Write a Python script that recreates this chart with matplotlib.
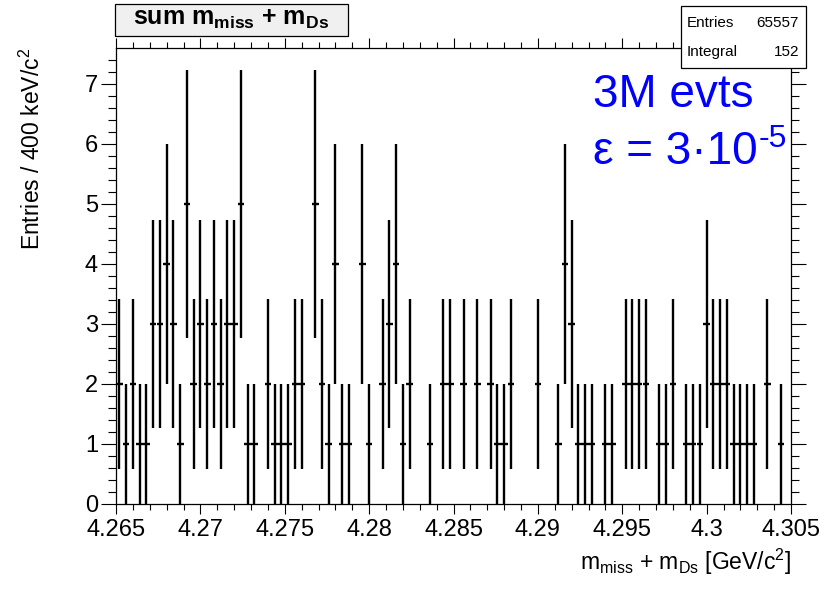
import numpy as np
import matplotlib
matplotlib.use("Agg")
import matplotlib.pyplot as plt
from matplotlib.patches import Rectangle
from matplotlib.ticker import FixedLocator, FixedFormatter, MultipleLocator

plt.rcParams['font.family'] = ['Liberation Sans', 'DejaVu Sans']
plt.rcParams['mathtext.fontset'] = 'custom'
plt.rcParams['mathtext.rm'] = 'Liberation Sans'
plt.rcParams['mathtext.it'] = 'Liberation Sans:italic'
plt.rcParams['mathtext.bf'] = 'Liberation Sans:bold'

# Histogram: 100 bins of 400 keV between 4.265 and 4.305 GeV
x_min, x_max, n_bins = 4.265, 4.305, 100
counts = [
    2, 1, 2, 1, 1, 3, 3, 4, 3, 1,
    5, 2, 3, 2, 3, 2, 3, 3, 5, 1,
    1, 0, 2, 1, 1, 1, 2, 2, 0, 5,
    2, 1, 4, 1, 1, 0, 4, 1, 0, 2,
    3, 4, 1, 2, 0, 0, 1, 0, 2, 2,
    0, 2, 0, 2, 0, 2, 1, 1, 2, 0,
    0, 0, 2, 0, 0, 1, 4, 3, 1, 1,
    1, 0, 1, 1, 0, 2, 2, 2, 2, 0,
    1, 1, 2, 0, 1, 1, 1, 3, 2, 2,
    2, 1, 1, 1, 1, 0, 2, 0, 1, 0,
]
entries = 65557
x_ticks = [4.265, 4.27, 4.275, 4.28, 4.285, 4.29, 4.295, 4.3, 4.305]
x_tick_labels = ["4.265", "4.27", "4.275", "4.28", "4.285", "4.29", "4.295", "4.3", "4.305"]
y_ticks = [0, 1, 2, 3, 4, 5, 6, 7]

edges = np.linspace(x_min, x_max, n_bins + 1)
centers = 0.5 * (edges[:-1] + edges[1:])
half_w = 0.5 * (edges[1] - edges[0])
y = np.array(counts, dtype=float)
err = np.sqrt(y)
filled = y > 0

W, H = 831, 593
fig = plt.figure(figsize=(W / 100, H / 100), dpi=100)
ax = fig.add_axes([116 / W, 1 - 504 / H, 675 / W, 456 / H])

ax.errorbar(centers[filled], y[filled], yerr=err[filled], xerr=half_w,
            fmt='none', ecolor='black', elinewidth=1.7, capsize=0)

ax.set_xlim(x_min, x_max)
ax.set_ylim(0, 1.05 * np.max(y + err))

ax.xaxis.set_major_locator(FixedLocator(x_ticks))
ax.xaxis.set_major_formatter(FixedFormatter(x_tick_labels))
ax.xaxis.set_minor_locator(MultipleLocator(0.001))
ax.yaxis.set_major_locator(FixedLocator(y_ticks))
ax.yaxis.set_minor_locator(MultipleLocator(0.2))

for s in ax.spines.values():
    s.set_linewidth(0.9)
ax.tick_params(axis='x', which='both', direction='out', top=True, bottom=True,
               labeltop=False, width=0.8, labelsize=17, pad=3)
ax.tick_params(axis='x', which='major', length=7.5)
ax.tick_params(axis='x', which='minor', length=4)
ax.tick_params(axis='y', which='both', direction='out', left=True, right=True,
               labelright=False, width=0.8, labelsize=17, pad=2)
ax.tick_params(axis='y', which='major', length=11)
ax.tick_params(axis='y', which='minor', length=5.8)

ax.set_xlabel(r'm$_{\mathrm{miss}}$ + m$_{\mathrm{Ds}}$ [GeV/c$^{\mathrm{2}}$]',
              fontsize=16.5, loc='right')
ax.xaxis.set_label_coords(1.0, -0.093)
ax.set_ylabel(r'Entries / 400 keV/c$^{\mathrm{2}}$', fontsize=16.5, loc='top')
ax.yaxis.set_label_coords(-0.105, 1.0)

# Title box
fig.add_artist(Rectangle((115 / W, 1 - 36 / H), 233 / W, 32 / H,
                         transform=fig.transFigure, facecolor='#f0f0f0',
                         edgecolor='black', linewidth=0.9, zorder=5))
fig.text(231 / W, 1 - 25 / H,
         r'sum m$_{\mathbf{miss}}$ + m$_{\mathbf{Ds}}$',
         fontsize=18, fontweight='bold', ha='center', va='baseline', zorder=6)

# Statistics box
fig.add_artist(Rectangle((681 / W, 1 - 68 / H), 125 / W, 62 / H,
                         transform=fig.transFigure, facecolor='white',
                         edgecolor='black', linewidth=0.9, zorder=5))
fig.text(687 / W, 1 - 23 / H, 'Entries', fontsize=11, ha='left', va='center', zorder=6)
fig.text(799 / W, 1 - 23 / H, f'{entries}', fontsize=11, ha='right', va='center', zorder=6)
fig.text(687 / W, 1 - 52 / H, 'Integral', fontsize=11, ha='left', va='center', zorder=6)
fig.text(799 / W, 1 - 52 / H, f'{int(sum(counts))}', fontsize=11, ha='right', va='center', zorder=6)

# Annotation
blue = '#0000ff'
fig.text(593 / W, 1 - 107 / H, '3M evts', fontsize=33, color=blue,
         ha='left', va='baseline')
eps = fig.text(593 / W, 1 - 164 / H, 'ε = 3·10', fontsize=33, color=blue,
               ha='left', va='baseline')
fig.canvas.draw()
bb = eps.get_window_extent()
fig.text((bb.x1 + 1) / W, 1 - 147 / H, '-5', fontsize=23, color=blue,
         ha='left', va='baseline')

fig.savefig('out.png', dpi=100)
